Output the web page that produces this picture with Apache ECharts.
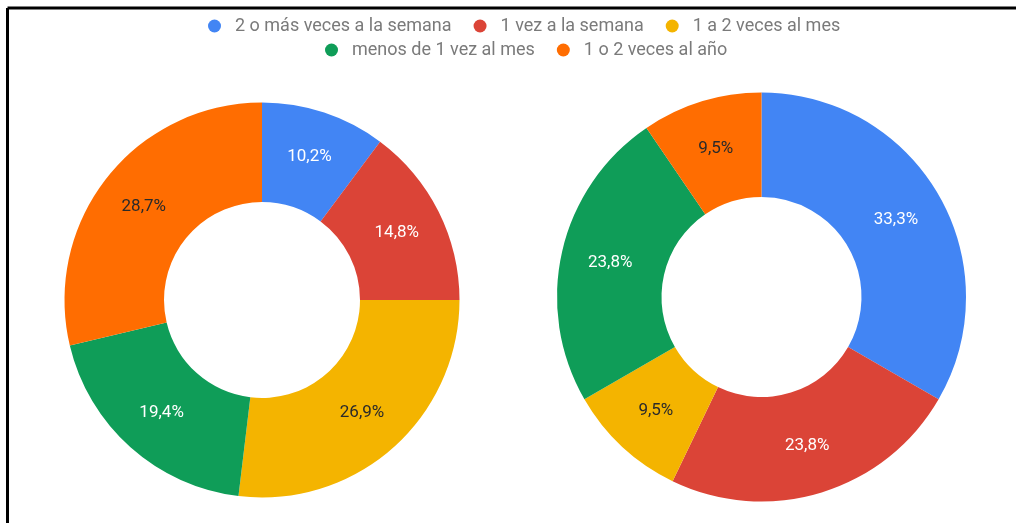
<!DOCTYPE html>
<html>
<head>
<meta charset="utf-8">
<script src="https://cdn.jsdelivr.net/npm/echarts@6/dist/echarts.min.js"></script>
<style>
html,body{margin:0;padding:0;background:#fff;}
#chart{width:1016px;height:523px;}
</style>
</head>
<body>
<div id="chart"></div>
<script>
const categories = ['2 o más veces a la semana', '1 vez a la semana', '1 a 2 veces al mes', 'menos de 1 vez al mes', '1 o 2 veces al año'];
const leftValues = [10.2, 14.8, 26.9, 19.4, 28.7];
const rightValues = [33.3, 23.8, 9.5, 23.8, 9.5];
const colors = ['#4285F4', '#DB4437', '#F4B400', '#0F9D58', '#FF6D01'];
const labelColors = ['#ffffff', '#ffffff', '#2a2a2a', '#ffffff', '#2a2a2a'];

function buildData(values) {
  return categories.map((name, i) => ({
    name: name,
    value: values[i],
    label: { color: labelColors[i] }
  }));
}

const legendText = { color: '#7a7a7a', fontSize: 18, fontFamily: 'Roboto', padding: [0, 0, 0, 9] };

const chart = echarts.init(document.getElementById('chart'), null, { renderer: 'canvas' });
chart.setOption({
  animation: false,
  color: colors,
  legend: [
    {
      data: categories.slice(0, 3),
      top: 12, left: 203,
      icon: 'circle', itemWidth: 13, itemHeight: 13, itemGap: 22,
      textStyle: legendText
    },
    {
      data: categories.slice(3),
      top: 36, left: 320,
      icon: 'circle', itemWidth: 13, itemHeight: 13, itemGap: 22,
      textStyle: legendText
    }
  ],
  graphic: [
    { type: 'line', shape: { x1: 7.5, y1: 8, x2: 1016, y2: 8 }, style: { stroke: '#000', lineWidth: 3 } },
    { type: 'line', shape: { x1: 7.5, y1: 8, x2: 7.5, y2: 523 }, style: { stroke: '#000', lineWidth: 3 } }
  ],
  series: [
    {
      type: 'pie',
      center: [262, 300],
      radius: [98, 197.5],
      startAngle: 90,
      clockwise: true,
      label: {
        show: true, position: 'inside', fontSize: 17, fontFamily: 'Roboto',
        formatter: p => p.value.toFixed(1).replace('.', ',') + '%'
      },
      labelLine: { show: false },
      emphasis: { disabled: true },
      data: buildData(leftValues)
    },
    {
      type: 'pie',
      center: [761.5, 297],
      radius: [100, 204.5],
      startAngle: 90,
      clockwise: true,
      label: {
        show: true, position: 'inside', fontSize: 17, fontFamily: 'Roboto',
        formatter: p => p.value.toFixed(1).replace('.', ',') + '%'
      },
      labelLine: { show: false },
      emphasis: { disabled: true },
      data: buildData(rightValues)
    }
  ]
});
</script>
</body>
</html>
